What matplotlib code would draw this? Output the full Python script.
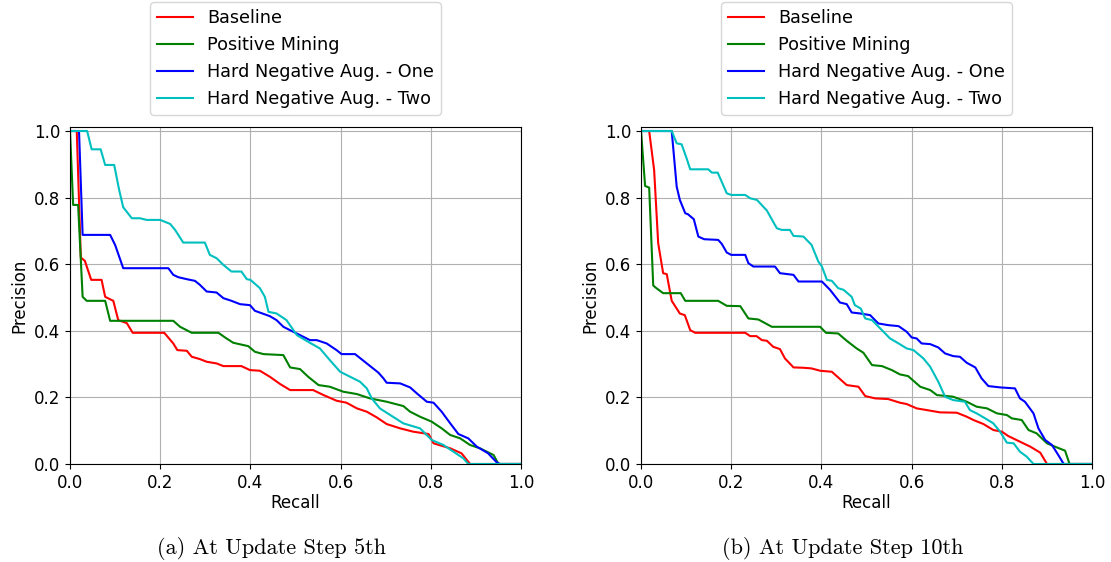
import matplotlib
matplotlib.use('Agg')
import matplotlib.pyplot as plt

# precision-recall points, (recall, precision)
# update step 5
base_5 = [(0, 1.0), (0.015, 1.0), (0.024, 0.62), (0.033, 0.61), (0.047, 0.553), (0.07, 0.553),
          (0.078, 0.502), (0.096, 0.49), (0.107, 0.432), (0.126, 0.423), (0.139, 0.394), (0.209, 0.394),
          (0.229, 0.362), (0.238, 0.342), (0.259, 0.34), (0.27, 0.322), (0.288, 0.315), (0.303, 0.307),
          (0.325, 0.302), (0.34, 0.294), (0.38, 0.294), (0.399, 0.282), (0.421, 0.28), (0.443, 0.262),
          (0.466, 0.24), (0.488, 0.222), (0.539, 0.222), (0.562, 0.207), (0.591, 0.19), (0.613, 0.184),
          (0.636, 0.167), (0.658, 0.157), (0.68, 0.14), (0.702, 0.12), (0.732, 0.107), (0.761, 0.097),
          (0.795, 0.09), (0.806, 0.062), (0.843, 0.047), (0.868, 0.032), (0.887, 0.0), (1.0, 0.0)]
pos_5 = [(0, 1.0), (0.007, 0.778), (0.018, 0.778), (0.028, 0.502), (0.037, 0.49), (0.078, 0.49),
         (0.089, 0.43), (0.229, 0.43), (0.244, 0.412), (0.27, 0.394), (0.329, 0.394), (0.347, 0.377),
         (0.362, 0.364), (0.395, 0.354), (0.41, 0.337), (0.429, 0.33), (0.473, 0.327), (0.488, 0.29),
         (0.51, 0.285), (0.528, 0.262), (0.551, 0.237), (0.576, 0.232), (0.606, 0.217), (0.636, 0.21),
         (0.665, 0.197), (0.702, 0.187), (0.739, 0.174), (0.754, 0.157), (0.776, 0.142), (0.802, 0.127),
         (0.824, 0.107), (0.843, 0.087), (0.865, 0.077), (0.887, 0.057), (0.909, 0.047), (0.939, 0.027),
         (0.95, 0.0), (1.0, 0.0)]
hard1_5 = [(0, 1.0), (0.02, 1.0), (0.028, 0.688), (0.089, 0.688), (0.1, 0.658), (0.118, 0.588),
           (0.218, 0.588), (0.229, 0.568), (0.24, 0.561), (0.259, 0.555), (0.277, 0.55), (0.288, 0.538),
           (0.303, 0.518), (0.325, 0.515), (0.34, 0.498), (0.358, 0.49), (0.377, 0.48), (0.399, 0.477),
           (0.41, 0.46), (0.443, 0.444), (0.458, 0.432), (0.473, 0.412), (0.495, 0.397), (0.51, 0.387),
           (0.532, 0.372), (0.547, 0.372), (0.569, 0.362), (0.591, 0.342), (0.602, 0.33), (0.632, 0.33),
           (0.658, 0.302), (0.684, 0.274), (0.695, 0.257), (0.702, 0.244), (0.732, 0.242), (0.754, 0.23),
           (0.769, 0.212), (0.791, 0.187), (0.806, 0.184), (0.824, 0.157), (0.843, 0.122), (0.861, 0.09),
           (0.883, 0.077), (0.902, 0.052), (0.927, 0.032), (0.946, 0.005), (0.953, 0.0), (1.0, 0.0)]
hard2_5 = [(0, 1.0), (0.038, 1.0), (0.048, 0.945), (0.068, 0.945), (0.078, 0.898), (0.098, 0.898),
           (0.109, 0.823), (0.118, 0.771), (0.137, 0.738), (0.155, 0.738), (0.17, 0.733), (0.2, 0.733),
           (0.222, 0.721), (0.233, 0.703), (0.251, 0.665), (0.299, 0.665), (0.31, 0.628), (0.325, 0.618),
           (0.34, 0.598), (0.358, 0.578), (0.38, 0.578), (0.392, 0.555), (0.4, 0.553), (0.421, 0.528),
           (0.432, 0.502), (0.44, 0.457), (0.458, 0.452), (0.48, 0.432), (0.503, 0.387), (0.528, 0.367),
           (0.554, 0.347), (0.576, 0.312), (0.599, 0.277), (0.621, 0.262), (0.643, 0.247), (0.658, 0.227),
           (0.669, 0.197), (0.687, 0.167), (0.71, 0.147), (0.739, 0.122), (0.776, 0.107), (0.802, 0.072),
           (0.828, 0.057), (0.85, 0.037), (0.872, 0.017), (0.883, 0.0), (1.0, 0.0)]

# update step 10
base_10 = [(0, 1.0), (0.018, 1.0), (0.029, 0.883), (0.038, 0.663), (0.049, 0.573), (0.057, 0.57),
           (0.068, 0.49), (0.086, 0.452), (0.097, 0.447), (0.109, 0.402), (0.12, 0.394), (0.231, 0.394),
           (0.242, 0.384), (0.256, 0.384), (0.268, 0.372), (0.279, 0.37), (0.293, 0.352), (0.308, 0.345),
           (0.319, 0.317), (0.338, 0.29), (0.36, 0.289), (0.378, 0.287), (0.397, 0.28), (0.423, 0.277),
           (0.437, 0.26), (0.456, 0.237), (0.482, 0.232), (0.497, 0.204), (0.519, 0.197), (0.548, 0.195),
           (0.574, 0.184), (0.589, 0.18), (0.611, 0.167), (0.633, 0.162), (0.663, 0.155), (0.7, 0.154),
           (0.722, 0.142), (0.737, 0.132), (0.759, 0.12), (0.781, 0.102), (0.8, 0.097), (0.814, 0.084),
           (0.84, 0.067), (0.863, 0.052), (0.885, 0.034), (0.9, 0.0), (1.0, 0.0)]
pos_10 = [(0, 1.0), (0.009, 0.835), (0.018, 0.83), (0.027, 0.536), (0.034, 0.528), (0.049, 0.513),
          (0.088, 0.513), (0.098, 0.49), (0.171, 0.49), (0.19, 0.475), (0.22, 0.474), (0.238, 0.437),
          (0.26, 0.434), (0.29, 0.412), (0.397, 0.412), (0.41, 0.394), (0.437, 0.392), (0.456, 0.37),
          (0.478, 0.347), (0.493, 0.334), (0.512, 0.297), (0.534, 0.294), (0.556, 0.282), (0.574, 0.269),
          (0.592, 0.264), (0.619, 0.232), (0.641, 0.222), (0.656, 0.207), (0.692, 0.202), (0.722, 0.187),
          (0.744, 0.172), (0.767, 0.167), (0.789, 0.152), (0.811, 0.147), (0.822, 0.137), (0.844, 0.132),
          (0.859, 0.102), (0.877, 0.092), (0.9, 0.062), (0.914, 0.054), (0.94, 0.04), (0.95, 0.0), (1.0, 0.0)]
hard1_10 = [(0, 1.0), (0.068, 1.0), (0.079, 0.833), (0.086, 0.793), (0.098, 0.753), (0.104, 0.75),
            (0.117, 0.735), (0.127, 0.683), (0.14, 0.675), (0.171, 0.673), (0.179, 0.661), (0.19, 0.635),
            (0.2, 0.628), (0.231, 0.628), (0.238, 0.603), (0.249, 0.593), (0.297, 0.593), (0.308, 0.573),
            (0.338, 0.568), (0.349, 0.548), (0.401, 0.548), (0.419, 0.523), (0.441, 0.485), (0.456, 0.48),
            (0.467, 0.455), (0.486, 0.452), (0.508, 0.447), (0.526, 0.422), (0.548, 0.417), (0.571, 0.414),
            (0.589, 0.397), (0.6, 0.38), (0.611, 0.377), (0.622, 0.362), (0.641, 0.36), (0.659, 0.35),
            (0.674, 0.332), (0.692, 0.324), (0.707, 0.322), (0.722, 0.304), (0.741, 0.29), (0.755, 0.257),
            (0.77, 0.234), (0.796, 0.23), (0.829, 0.227), (0.84, 0.197), (0.851, 0.187), (0.87, 0.152),
            (0.881, 0.107), (0.896, 0.072), (0.911, 0.057), (0.925, 0.027), (0.937, 0.0), (1.0, 0.0)]
hard2_10 = [(0, 1.0), (0.068, 1.0), (0.079, 0.963), (0.09, 0.96), (0.101, 0.918), (0.109, 0.885),
            (0.149, 0.885), (0.157, 0.875), (0.17, 0.875), (0.19, 0.813), (0.2, 0.808), (0.231, 0.808),
            (0.242, 0.798), (0.257, 0.793), (0.279, 0.761), (0.301, 0.708), (0.312, 0.703), (0.33, 0.703),
            (0.338, 0.685), (0.36, 0.683), (0.378, 0.658), (0.393, 0.608), (0.401, 0.593), (0.412, 0.553),
            (0.423, 0.55), (0.437, 0.528), (0.449, 0.523), (0.467, 0.502), (0.474, 0.477), (0.487, 0.467),
            (0.497, 0.437), (0.512, 0.432), (0.534, 0.402), (0.552, 0.377), (0.571, 0.362), (0.589, 0.347),
            (0.604, 0.342), (0.626, 0.317), (0.641, 0.292), (0.659, 0.247), (0.674, 0.202), (0.692, 0.192),
            (0.718, 0.187), (0.729, 0.162), (0.744, 0.152), (0.763, 0.137), (0.781, 0.122), (0.796, 0.097),
            (0.811, 0.064), (0.826, 0.062), (0.84, 0.037), (0.855, 0.022), (0.87, 0.0), (1.0, 0.0)]

labels = ['Baseline', 'Positive Mining', 'Hard Negative Aug. - One', 'Hard Negative Aug. - Two']
colors = ['r', 'g', 'b', 'c']
captions = ['(a) At Update Step 5th', '(b) At Update Step 10th']
panels = [[base_5, pos_5, hard1_5, hard2_5], [base_10, pos_10, hard1_10, hard2_10]]

fig = plt.figure(figsize=(11.11, 5.62), dpi=100)
ax_left = [0.063, 0.577]

for i in range(2):
    ax = fig.add_axes([ax_left[i], 0.1744, 0.406, 0.5996])
    for curve, lab, col in zip(panels[i], labels, colors):
        r, p = zip(*curve)
        ax.plot(r, p, color=col, lw=1.5, label=lab)
    ax.set_xlim(0, 1)
    ax.set_ylim(0, 1.012)
    ax.set_xticks([0, 0.2, 0.4, 0.6, 0.8, 1.0])
    ax.set_yticks([0, 0.2, 0.4, 0.6, 0.8, 1.0])
    ax.tick_params(labelsize=12)
    ax.grid(True)
    ax.set_xlabel('Recall', fontsize=12, labelpad=2)
    ax.set_ylabel('Precision', fontsize=12, labelpad=4)
    ax.legend(loc='lower center', bbox_to_anchor=(0.5, 1.036), borderaxespad=0, fontsize=12.7)
    fig.text(ax_left[i] + 0.406 / 2 - 24 / 1111, 1 - 548 / 562, captions[i],
             family='cmr10', fontsize=16, ha='center', va='center')

plt.savefig('out.png', dpi=100)
